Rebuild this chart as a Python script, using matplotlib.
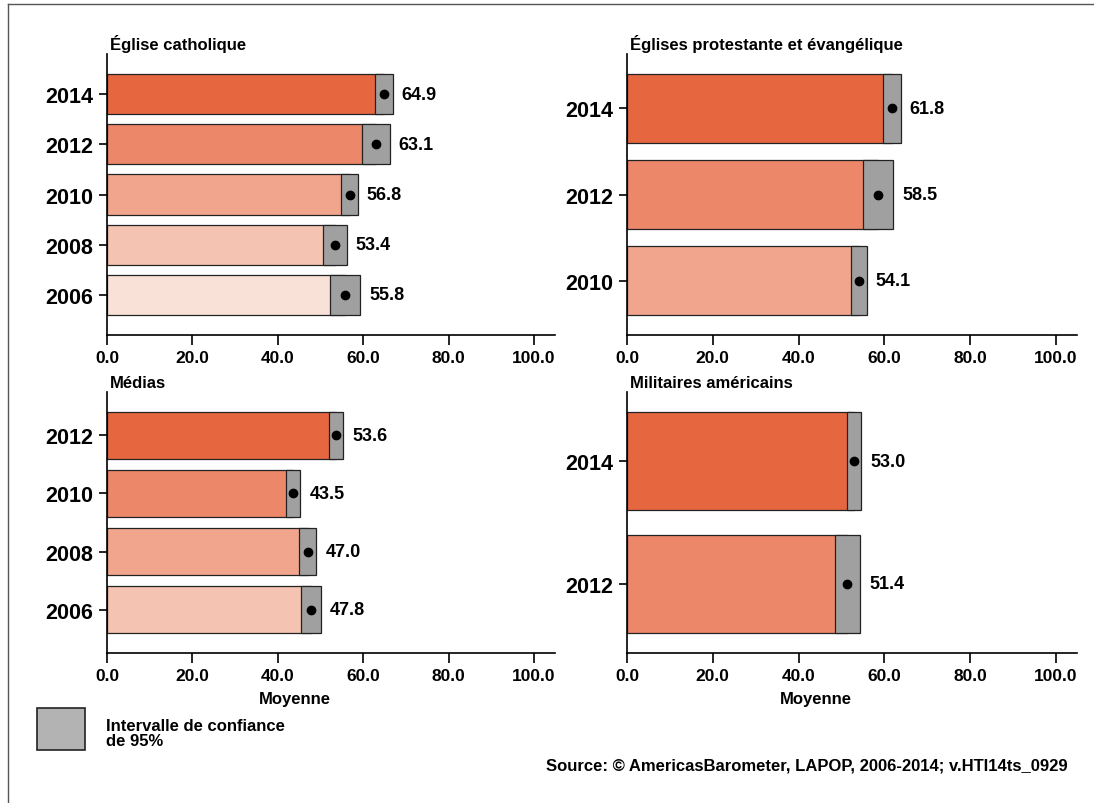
import matplotlib
matplotlib.use('Agg')
import matplotlib.pyplot as plt
from matplotlib.patches import Rectangle
from matplotlib.lines import Line2D

plt.rcParams['font.family'] = ['Liberation Sans', 'DejaVu Sans']
plt.rcParams['font.weight'] = 'bold'

# Data: one small set of arrays per panel (top bar first)
cath_years = ['2014', '2012', '2010', '2008', '2006']
cath_mean = [64.9, 63.1, 56.8, 53.4, 55.8]
cath_lo = [62.7, 59.8, 54.8, 50.6, 52.2]
cath_hi = [66.9, 66.2, 58.7, 56.1, 59.3]

prot_years = ['2014', '2012', '2010']
prot_mean = [61.8, 58.5, 54.1]
prot_lo = [59.6, 55.1, 52.2]
prot_hi = [63.8, 62.0, 55.9]

media_years = ['2012', '2010', '2008', '2006']
media_mean = [53.6, 43.5, 47.0, 47.8]
media_lo = [51.9, 41.8, 44.9, 45.5]
media_hi = [55.3, 45.3, 49.0, 50.1]

mil_years = ['2014', '2012']
mil_mean = [53.0, 51.4]
mil_lo = [51.3, 48.6]
mil_hi = [54.6, 54.3]

shades = ['#E6663F', '#EC8769', '#F1A58C', '#F5C3B1', '#FAE1D8']
ci_grey = '#A0A0A0'
edge = '#222222'

W, H = 1094, 804
fig = plt.figure(figsize=(W / 100, H / 100), dpi=100)


def panel(rect_px, title, years, mean, lo, hi, xlabel=None):
    x0, y_top, x1, y_bot = rect_px
    ax = fig.add_axes([x0 / W, 1 - y_bot / H, (x1 - x0) / W, (y_bot - y_top) / H])
    n = len(years)
    ypos = list(range(n - 1, -1, -1))
    for i in range(n):
        ax.barh(ypos[i], mean[i], height=0.8, color=shades[i],
                edgecolor=edge, linewidth=0.9, zorder=2)
        ax.add_patch(Rectangle((lo[i], ypos[i] - 0.4), hi[i] - lo[i], 0.8,
                               facecolor=ci_grey, edgecolor=edge,
                               linewidth=0.9, zorder=3))
        ax.plot(mean[i], ypos[i], 'o', color='black', markersize=6, zorder=4)
        ax.annotate(f'{mean[i]:.1f}', (hi[i], ypos[i]), xytext=(6.5, 0),
                    textcoords='offset points', va='center', ha='left',
                    fontsize=13, fontweight='bold')
    # keep ~20 px between outer bars and the axes edge
    spacing = ((y_bot - y_top) - 40) / (n - 0.2)
    pad = 0.4 + 20 / spacing
    ax.set_ylim(-pad, n - 1 + pad)
    ax.set_xlim(0, 104.9)
    ax.set_xticks([0, 20, 40, 60, 80, 100])
    ax.set_xticklabels(['0.0', '20.0', '40.0', '60.0', '80.0', '100.0'],
                       fontsize=12.5, fontweight='bold')
    ax.set_yticks(ypos)
    ax.set_yticklabels(years, fontsize=15.5, fontweight='bold')
    for s in ['top', 'right']:
        ax.spines[s].set_visible(False)
    for s in ['left', 'bottom']:
        ax.spines[s].set_linewidth(1.2)
    ax.tick_params(axis='x', length=7, width=1.2, pad=4)
    ax.tick_params(axis='y', length=6, width=1.2, pad=4)
    ax.text(0.006, 1.006, title, transform=ax.transAxes, ha='left',
            va='bottom', fontsize=12, fontweight='bold')
    if xlabel:
        ax.set_xlabel(xlabel, fontsize=12, fontweight='bold')
        ax.xaxis.set_label_coords(0.42, -0.145)
    return ax


panel((107, 55, 555, 336), 'Église catholique', cath_years, cath_mean, cath_lo, cath_hi)
panel((627, 55, 1077, 336), 'Églises protestante et évangélique', prot_years, prot_mean, prot_lo, prot_hi)
panel((107, 393, 555, 654), 'Médias', media_years, media_mean, media_lo, media_hi, 'Moyenne')
panel((627, 393, 1077, 654), 'Militaires américains', mil_years, mil_mean, mil_lo, mil_hi, 'Moyenne')

# legend box for the confidence interval
fig.patches.append(Rectangle((37 / W, 1 - 751 / H), 48 / W, 42 / H,
                             transform=fig.transFigure, facecolor='#B3B3B3',
                             edgecolor=edge, linewidth=1.2))
fig.text(106 / W, 1 - 734 / H, 'Intervalle de confiance\nde 95%',
         ha='left', va='center', fontsize=12, fontweight='bold', linespacing=0.95)

fig.text(1068 / W, 1 - 766 / H,
         'Source: © AmericasBarometer, LAPOP, 2006-2014; v.HTI14ts_0929',
         ha='right', va='center', fontsize=12, fontweight='bold')

# outer frame (left and top)
fig.lines.append(Line2D([7.5 / W, 7.5 / W], [0, 1 - 4.5 / H],
                        transform=fig.transFigure, color='#555555', linewidth=1))
fig.lines.append(Line2D([7.5 / W, 1], [1 - 4.5 / H, 1 - 4.5 / H],
                        transform=fig.transFigure, color='#555555', linewidth=1))

plt.savefig('out.png', dpi=100)
